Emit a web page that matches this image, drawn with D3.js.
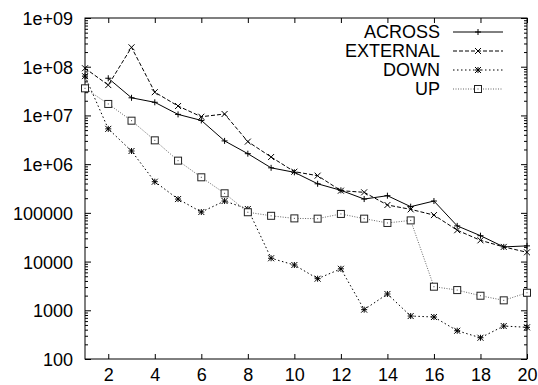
<!DOCTYPE html>
<html>
<head>
<meta charset="utf-8">
<script src="https://cdn.jsdelivr.net/npm/d3@7"></script>
<style>
  body { margin: 0; background: #fff; }
  svg { display: block; font-family: "Liberation Sans", Arial, Helvetica, sans-serif; }
</style>
</head>
<body>
<div id="chart"></div>
<script>
// values
const xValues = [1, 2, 3, 4, 5, 6, 7, 8, 9, 10, 11, 12, 13, 14, 15, 16, 17, 18, 19, 20];
const acrossX = xValues.slice(1); // ACROSS has no point at x = 1
const across = [5.8e7, 2.3e7, 1.86e7, 1.05e7, 7.9e6, 3.0e6, 1.64e6, 8.4e5, 6.8e5, 3.95e5, 2.9e5,
  1.92e5, 2.25e5, 1.34e5, 1.75e5, 5.4e4, 3.4e4, 2.0e4, 2.1e4];
const external = [9.3e7, 4.2e7, 2.5e8, 3.0e7, 1.56e7, 9.4e6, 1.07e7, 2.9e6, 1.4e6, 7.0e5, 5.8e5, 2.85e5,
  2.64e5, 1.45e5, 1.18e5, 9.0e4, 4.4e4, 2.73e4, 2.0e4, 1.55e4];
const down = [6.4e7, 5.3e6, 1.86e6, 4.36e5, 1.92e5, 1.04e5, 1.75e5, 1.2e5, 1.17e4, 8.5e3, 4.45e3, 7.1e3,
  1030, 2160, 762, 728, 380, 273, 475, 447];
const up = [3.6e7, 1.72e7, 7.8e6, 3.08e6, 1.18e6, 5.37e5, 2.52e5, 1.03e5, 8.7e4, 7.7e4, 7.6e4, 9.5e4,
  7.6e4, 6.2e4, 7.0e4, 3.05e3, 2.6e3, 1.99e3, 1.6e3, 2.29e3];

const xTicks = [2, 4, 6, 8, 10, 12, 14, 16, 18, 20];
const yTicks = [100, 1000, 10000, 100000, 1e6, 1e7, 1e8, 1e9];
const yTickLabels = ["100", "1000", "10000", "100000", "1e+06", "1e+07", "1e+08", "1e+09"];

const series = [
  { label: "ACROSS", xs: acrossX, ys: across, dash: null, color: "#000", marker: "plus" },
  { label: "EXTERNAL", xs: xValues, ys: external, dash: "4,2", color: "#000", marker: "cross" },
  { label: "DOWN", xs: xValues, ys: down, dash: "1.5,2.5", color: "#000", marker: "star" },
  { label: "UP", xs: xValues, ys: up, dash: "1,1.5", color: "#666", marker: "square" }
];

const width = 538, height = 385;
const plot = { left: 85, right: 527, top: 18, bottom: 359 };

const svg = d3.select("#chart").append("svg")
  .attr("width", width)
  .attr("height", height);

const x = d3.scaleLinear().domain([1, 20]).range([plot.left, plot.right]);
const y = d3.scaleLog().domain([100, 1e9]).range([plot.bottom, plot.top]);

// minor log ticks (2..9 of every decade)
const minorTicks = [];
yTicks.slice(0, -1).forEach(d => {
  for (let k = 2; k <= 9; k++) minorTicks.push(d * k);
});

function styleAxis(g) {
  g.select(".domain").remove();
  g.selectAll(".tick line").attr("stroke", "#000").attr("stroke-width", 1);
  g.selectAll(".tick text").attr("fill", "#000").style("font-size", "18px");
}

// bottom axis with labels
svg.append("g")
  .attr("transform", `translate(0,${plot.bottom})`)
  .call(d3.axisBottom(x).tickValues(xTicks).tickSize(-5).tickSizeOuter(0).tickPadding(9))
  .call(styleAxis);

// top axis, ticks only
svg.append("g")
  .attr("transform", `translate(0,${plot.top})`)
  .call(d3.axisTop(x).tickValues(xTicks).tickSize(-5).tickSizeOuter(0).tickFormat(""))
  .call(styleAxis);

// left axis with labels
svg.append("g")
  .attr("transform", `translate(${plot.left},0)`)
  .call(d3.axisLeft(y).tickValues(yTicks).tickSize(-6).tickSizeOuter(0).tickPadding(12)
    .tickFormat((d, i) => yTickLabels[i]))
  .call(styleAxis)
  .selectAll(".tick text").attr("dy", "0.36em");

svg.append("g")
  .attr("transform", `translate(${plot.left},0)`)
  .call(d3.axisLeft(y).tickValues(minorTicks).tickSize(-3).tickSizeOuter(0).tickFormat(""))
  .call(styleAxis);

// right axis, ticks only
svg.append("g")
  .attr("transform", `translate(${plot.right},0)`)
  .call(d3.axisRight(y).tickValues(yTicks).tickSize(-6).tickSizeOuter(0).tickFormat(""))
  .call(styleAxis);

svg.append("g")
  .attr("transform", `translate(${plot.right},0)`)
  .call(d3.axisRight(y).tickValues(minorTicks).tickSize(-3).tickSizeOuter(0).tickFormat(""))
  .call(styleAxis);

// frame
svg.append("rect")
  .attr("x", plot.left)
  .attr("y", plot.top)
  .attr("width", plot.right - plot.left)
  .attr("height", plot.bottom - plot.top)
  .attr("fill", "none")
  .attr("stroke", "#000")
  .attr("stroke-width", 1);

function drawMarker(g, type, cx, cy) {
  const s = 3;
  if (type === "plus" || type === "star") {
    g.append("path")
      .attr("d", `M${cx - s},${cy}H${cx + s}M${cx},${cy - s}V${cy + s}`)
      .attr("stroke", "#000").attr("stroke-width", 1).attr("fill", "none");
  }
  if (type === "cross" || type === "star") {
    g.append("path")
      .attr("d", `M${cx - s},${cy - s}L${cx + s},${cy + s}M${cx - s},${cy + s}L${cx + s},${cy - s}`)
      .attr("stroke", "#000").attr("stroke-width", 1).attr("fill", "none");
  }
  if (type === "square") {
    g.append("rect")
      .attr("x", cx - 3.5).attr("y", cy - 3.5)
      .attr("width", 7).attr("height", 7)
      .attr("fill", "#fff").attr("stroke", "#222").attr("stroke-width", 1);
    g.append("rect")
      .attr("x", cx - 0.5).attr("y", cy - 0.5)
      .attr("width", 1).attr("height", 1)
      .attr("fill", "#444");
  }
}

const line = d3.line()
  .x(d => x(d[0]))
  .y(d => y(d[1]));

series.forEach(s => {
  const pts = s.xs.map((xv, i) => [xv, s.ys[i]]);
  svg.append("path")
    .datum(pts)
    .attr("fill", "none")
    .attr("stroke", s.color)
    .attr("stroke-width", 1)
    .attr("stroke-dasharray", s.dash)
    .attr("d", line);
  const mg = svg.append("g");
  pts.forEach(p => drawMarker(mg, s.marker, x(p[0]), y(p[1])));
});

// legend
const legendTop = 32, legendStep = 19;
series.forEach((s, i) => {
  const ly = legendTop + i * legendStep;
  svg.append("text")
    .attr("x", 440)
    .attr("y", ly)
    .attr("dy", "0.36em")
    .attr("text-anchor", "end")
    .style("font-size", "18px")
    .attr("fill", "#000")
    .text(s.label);
  svg.append("line")
    .attr("x1", 453).attr("x2", 503)
    .attr("y1", ly).attr("y2", ly)
    .attr("stroke", s.color)
    .attr("stroke-width", 1)
    .attr("stroke-dasharray", s.dash);
  drawMarker(svg.append("g"), s.marker, 478, ly);
});
</script>
</body>
</html>
